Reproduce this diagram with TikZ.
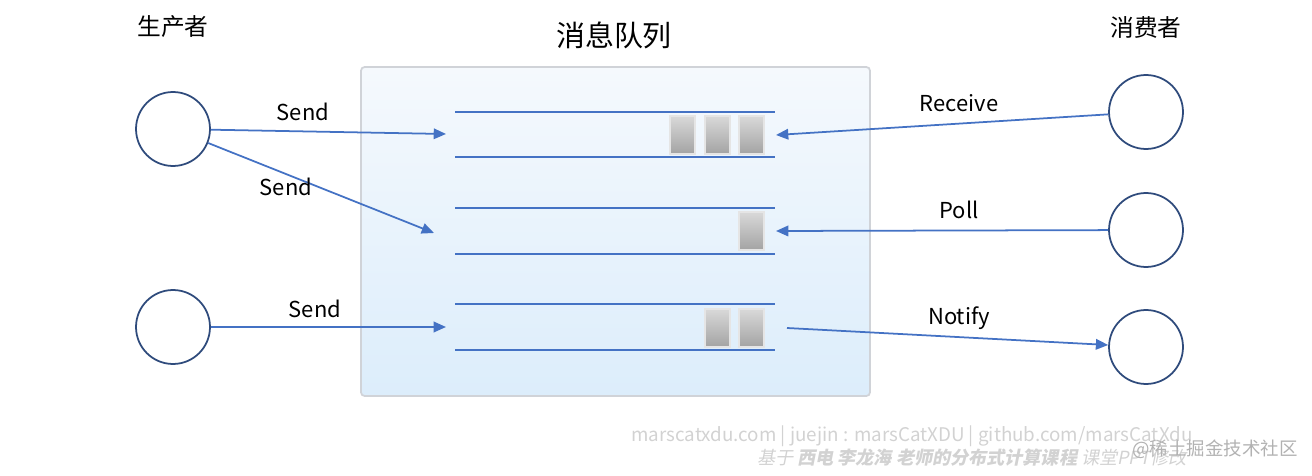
\documentclass[tikz,border=0pt]{standalone}
\usepackage{fontspec}
\usepackage{xcolor}
\usetikzlibrary{arrows.meta}
\setmainfont{Noto Sans CJK SC}
\newfontfamily\wmfont{Noto Sans CJK SC}[FakeSlant=0.2]
\definecolor{mqline}{HTML}{4472C4}
\definecolor{mqring}{HTML}{2F4B7C}
\definecolor{mqedge}{HTML}{D0D3D8}
\definecolor{mqtop}{HTML}{F5F9FD}
\definecolor{mqbot}{HTML}{DCEDFB}

\begin{document}
\begin{tikzpicture}[
  x=0.02cm,
  y=-0.02cm,
  every node/.style={font=\fontsize{12.5}{15}\selectfont, black},
  endpoint/.style={circle, draw=mqring, line width=1pt, fill=white,
                   minimum size=1.48cm, inner sep=0pt},
  mqbox/.style={draw=mqedge, line width=1pt, rounded corners=2pt,
                top color=mqtop, bottom color=mqbot,
                minimum width=10.18cm, minimum height=6.58cm},
  rail/.style={mqline, line width=1.3pt},
  msg/.style={draw=gray!20, line width=0.8pt, top color=gray!30,
              bottom color=gray!72, minimum width=0.5cm,
              minimum height=0.76cm, inner sep=0pt},
  flow/.style={mqline, line width=1pt, -{Triangle[length=7pt, width=6pt]}},
  title/.style={font=\fontsize{13.5}{16}\selectfont},
  wmtext/.style={font=\fontsize{10.7}{12}\selectfont, gray!35}
]
  \useasboundingbox (0,0) rectangle (1312,476);

  % ---- the queue box ----
  \node[mqbox] (mq) at (615.5,231.5) {};

  % ---- producers and consumers ----
  \node[endpoint] (p1) at (173,129) {};
  \node[endpoint] (p2) at (173,327) {};
  \node[endpoint] (c1) at (1146,112) {};
  \node[endpoint] (c2) at (1146,230) {};
  \node[endpoint] (c3) at (1146,347) {};

  % ---- headings ----
  \node[title] (hp) at (173,27) {生产者};
  \node[font=\fontsize{16.5}{19}\selectfont] (hq) at (614,35) {消息队列};
  \node[title] (hc) at (1146,27) {消费者};

  % ---- queue rails ----
  \foreach \y in {112,157,208,254,304,350}
    \draw[rail] (455,\y) -- (775,\y);

  % ---- messages waiting in the queues ----
  \node[msg] (m11) at (682.5,135) {};
  \node[msg] (m12) at (717.5,135) {};
  \node[msg] (m13) at (751.5,135) {};
  \node[msg] (m21) at (751.5,231) {};
  \node[msg] (m31) at (717.5,328) {};
  \node[msg] (m32) at (751.5,328) {};

  % ---- ends of the connectors inside the box ----
  \coordinate (q1in)  at (446,134);
  \coordinate (q2in)  at (434,233);
  \coordinate (q3in)  at (446,327);
  \coordinate (q1out) at (776,135);
  \coordinate (q2out) at (776,231);
  \coordinate (q3out) at (787,328);

  % ---- connectors ----
  \draw[flow] (p1) -- (q1in);
  \draw[flow] (p1) -- (q2in);
  \draw[flow] (p2) -- (q3in);
  \draw[flow] (c1) -- (q1out);
  \draw[flow] (c2) -- (q2out);
  \draw[flow] (q3out) -- (c3);

  % ---- connector labels ----
  \node (s1) at (303,112) {Send};
  \node (s2) at (286,187) {Send};
  \node (s3) at (315,309) {Send};
  \node (rc) at (959,103) {Receive};
  \node (pl) at (959,210) {Poll};
  \node (nt) at (959,318) {Notify};

  % ---- watermark ----
  \node[wmtext] (w1) at (912,436)
    {marscatxdu.com | juejin : marsCatXDU | github.com/marsCatXdu};
  \node[wmtext, font=\wmfont\fontsize{10.3}{12}\selectfont] (w2) at (972,458)
    {基于 \textbf{西电 李龙海 老师的分布式计算课程} 课堂PPT修改};
  \node[font=\fontsize{10.5}{12}\selectfont, gray!60] (w3) at (1215,449)
    {@稀土掘金技术社区};
\end{tikzpicture}
\end{document}
